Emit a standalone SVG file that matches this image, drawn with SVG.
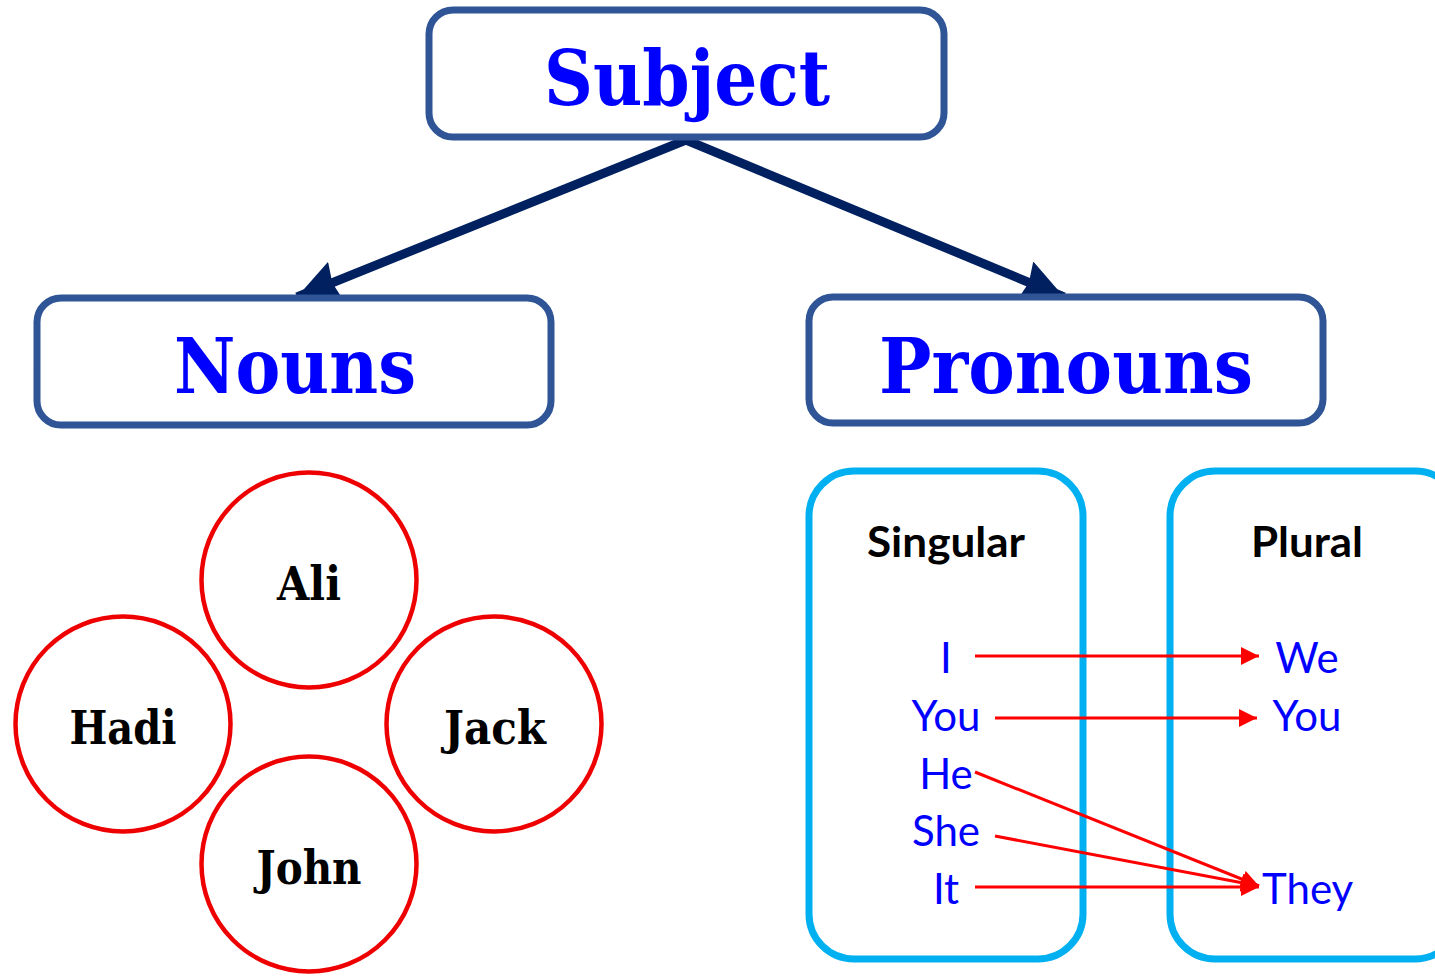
<svg xmlns="http://www.w3.org/2000/svg" width="1435" height="976" viewBox="0 0 1435 976">
<style>
.box{fill:#fff;stroke:#2F5597;stroke-width:7}
.head{font-family:"DejaVu Serif","Liberation Serif",serif;font-weight:bold;fill:#0000FF;text-anchor:middle}
.circ{fill:none;stroke:#EE0000;stroke-width:4.5}
.name{font-family:"DejaVu Serif","Liberation Serif",serif;font-weight:bold;font-size:47px;fill:#000;text-anchor:middle}
.col{fill:none;stroke:#00B0F0;stroke-width:7}
.lab{font-family:Lato,"Open Sans",sans-serif;font-weight:bold;font-size:42px;fill:#000;text-anchor:middle}
.pr{font-family:Lato,"Open Sans",sans-serif;font-size:42px;fill:#0000FF;text-anchor:middle}
.main{stroke:#002060;stroke-width:9;fill:none}
.red{stroke:#FF0000;stroke-width:3;fill:none}
</style>
<defs>
<marker id="ah" markerUnits="userSpaceOnUse" markerWidth="46" markerHeight="42" refX="42" refY="21" orient="auto"><path d="M0,0 L42,21 L0,42 L4,21 Z" fill="#002060"/></marker>
<marker id="ar" markerUnits="userSpaceOnUse" markerWidth="20" markerHeight="18" refX="18" refY="9" orient="auto"><path d="M0,0 L18,9 L0,18 Z" fill="#FF0000"/></marker>
</defs>
<g id="connectors">
<line class="main" x1="686" y1="140" x2="297" y2="297" marker-end="url(#ah)"/>
<line class="main" x1="686" y1="140" x2="1064" y2="297" marker-end="url(#ah)"/>
</g>
<g id="subject"><rect class="box" x="429" y="10" width="515" height="127" rx="24"/><text class="head" x="687" y="105" font-size="77" textLength="286" lengthAdjust="spacingAndGlyphs">Subject</text></g>
<g id="nouns"><rect class="box" x="37" y="298" width="514" height="127" rx="24"/><text class="head" x="295" y="393" font-size="77" textLength="242" lengthAdjust="spacingAndGlyphs">Nouns</text></g>
<g id="pronouns"><rect class="box" x="809" y="297" width="514" height="126" rx="24"/><text class="head" x="1066" y="393" font-size="77" textLength="374" lengthAdjust="spacingAndGlyphs">Pronouns</text></g>
<g id="ali"><circle class="circ" cx="309" cy="580" r="107.5"/><text class="name" x="309" y="600" textLength="64" lengthAdjust="spacingAndGlyphs">Ali</text></g>
<g id="hadi"><circle class="circ" cx="123" cy="724" r="107.5"/><text class="name" x="123" y="744" textLength="107" lengthAdjust="spacingAndGlyphs">Hadi</text></g>
<g id="jack"><circle class="circ" cx="494" cy="724" r="107.5"/><text class="name" x="495" y="744" textLength="102" lengthAdjust="spacingAndGlyphs">Jack</text></g>
<g id="john"><circle class="circ" cx="309" cy="864" r="107.5"/><text class="name" x="309" y="884" textLength="105" lengthAdjust="spacingAndGlyphs">John</text></g>
<g id="singular"><rect class="col" x="809" y="471" width="274" height="488" rx="45"/><text class="lab" x="946" y="557" textLength="158" lengthAdjust="spacingAndGlyphs">Singular</text>
<text class="pr" x="946" y="673">I</text><text class="pr" x="946" y="731">You</text><text class="pr" x="946" y="789">He</text><text class="pr" x="946" y="846">She</text><text class="pr" x="946" y="904">It</text></g>
<g id="plural"><rect class="col" x="1170" y="471" width="290" height="488" rx="45"/><text class="lab" x="1307" y="557" textLength="112" lengthAdjust="spacingAndGlyphs">Plural</text>
<text class="pr" x="1307" y="673">We</text><text class="pr" x="1307" y="731">You</text><text class="pr" x="1262" y="904" style="text-anchor:start">They</text></g>
<g id="pronoun-links">
<line class="red" x1="975" y1="656" x2="1259" y2="656" marker-end="url(#ar)"/>
<line class="red" x1="995" y1="718" x2="1257" y2="718" marker-end="url(#ar)"/>
<line class="red" x1="975" y1="772" x2="1259" y2="886" marker-end="url(#ar)"/>
<line class="red" x1="995" y1="836" x2="1259" y2="886" marker-end="url(#ar)"/>
<line class="red" x1="975" y1="887" x2="1259" y2="887" marker-end="url(#ar)"/>
</g>
</svg>
